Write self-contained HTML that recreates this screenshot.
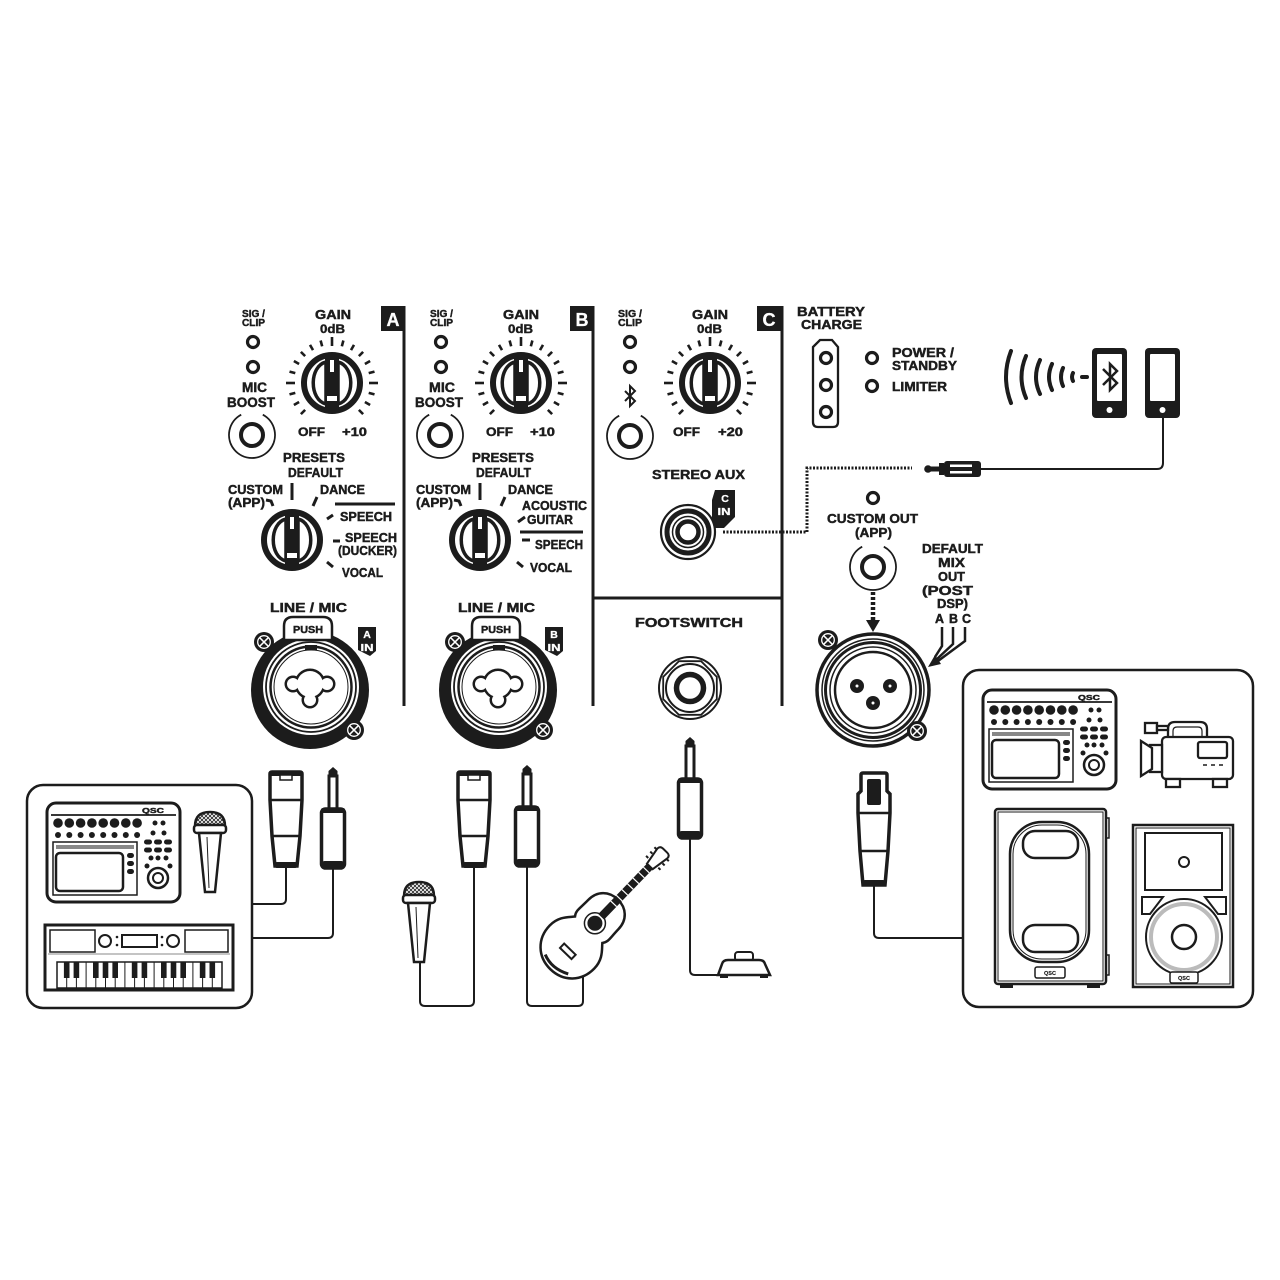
<!DOCTYPE html>
<html><head><meta charset="utf-8">
<style>
html,body{margin:0;padding:0;background:#fff;width:1280px;height:1280px;overflow:hidden}
svg{display:block}
text{font-family:"Liberation Sans",Arial,sans-serif;font-weight:bold;fill:#1c1c1c;stroke:#1c1c1c;stroke-width:0.45}
text.w{fill:#fff;stroke:#fff;stroke-width:0.3}
text.s{stroke-width:0.15}
</style></head><body>
<svg width="1280" height="1280" viewBox="0 0 1280 1280" xmlns="http://www.w3.org/2000/svg" xmlns:xlink="http://www.w3.org/1999/xlink">
<defs>
<pattern id="hatch" width="4" height="4" patternUnits="userSpaceOnUse"><path d="M0,4L4,0M0,0L4,4" stroke="#222" stroke-width="0.8"/></pattern>
<g id="ticks" stroke="#1c1c1c" stroke-width="2.6">
 <line y1="-38" y2="-44" transform="rotate(-135)"/>
 <line y1="-38" y2="-44" transform="rotate(-120)"/>
 <line y1="-38" y2="-44" transform="rotate(-105)"/>
 <line y1="-37" y2="-46" transform="rotate(-90)"/>
 <line y1="-38" y2="-44" transform="rotate(-75)"/>
 <line y1="-38" y2="-44" transform="rotate(-60)"/>
 <line y1="-38" y2="-44" transform="rotate(-45)"/>
 <line y1="-38" y2="-44" transform="rotate(-30)"/>
 <line y1="-38" y2="-44" transform="rotate(-15)"/>
 <line y1="-37" y2="-46"/>
 <line y1="-38" y2="-44" transform="rotate(15)"/>
 <line y1="-38" y2="-44" transform="rotate(30)"/>
 <line y1="-38" y2="-44" transform="rotate(45)"/>
 <line y1="-38" y2="-44" transform="rotate(60)"/>
 <line y1="-38" y2="-44" transform="rotate(75)"/>
 <line y1="-37" y2="-46" transform="rotate(90)"/>
 <line y1="-38" y2="-44" transform="rotate(105)"/>
 <line y1="-38" y2="-44" transform="rotate(120)"/>
 <line y1="-38" y2="-44" transform="rotate(135)"/>
</g>
<g id="knob">
 <circle r="28" fill="#fff" stroke="#1c1c1c" stroke-width="6"/>
 <path d="M-6,-21 C-23,-17 -23,17 -6,21 Z" fill="#fff" stroke="#1c1c1c" stroke-width="3.5"/>
 <path d="M6,-21 C23,-17 23,17 6,21 Z" fill="#fff" stroke="#1c1c1c" stroke-width="3.5"/>
 <rect x="-7" y="-25" width="14" height="50" fill="#1c1c1c"/>
 <rect x="-2" y="-23" width="4" height="12" fill="#fff"/>
 <rect x="-5" y="13" width="10" height="5" fill="#fff"/>
</g>
<circle id="led" r="5.5" fill="none" stroke="#1c1c1c" stroke-width="3.2"/>
<g id="sjack">
 <circle r="11" fill="none" stroke="#1c1c1c" stroke-width="4"/>
 <path d="M10.8,-20.3 A23,23 0 1 1 -10.8,-20.3" fill="none" stroke="#1c1c1c" stroke-width="1.8"/>
</g>
<g id="screw">
 <circle r="10" fill="#1c1c1c"/>
 <circle r="6.3" fill="none" stroke="#fff" stroke-width="1.3"/>
 <path d="M-4.3,-4.3L4.3,4.3M4.3,-4.3L-4.3,4.3" stroke="#fff" stroke-width="1.5"/>
</g>
<g id="combo">
 <circle r="59" fill="#1c1c1c"/>
 <circle cx="1" cy="-3" r="48" fill="#fff"/>
 <circle cx="1" cy="-3" r="45" fill="none" stroke="#1c1c1c" stroke-width="1.8"/>
 <circle cx="1" cy="-3" r="40.5" fill="#fff" stroke="#1c1c1c" stroke-width="2.5"/>
 <circle cx="1" cy="-3" r="37" fill="none" stroke="#1c1c1c" stroke-width="1"/>
 <rect x="-5" y="-45" width="12" height="5" fill="#1c1c1c"/>
 <g fill="#1c1c1c"><circle cx="0" cy="-6" r="15.5"/><circle cx="-17" cy="-6" r="8.5"/><circle cx="17" cy="-6" r="8.5"/><circle cx="0" cy="10" r="8.5"/></g>
 <g fill="#fff"><circle cx="0" cy="-6" r="13"/><circle cx="-17" cy="-6" r="6"/><circle cx="17" cy="-6" r="6"/><circle cx="0" cy="10" r="6"/></g>
 <path d="M-26,-50 L-26,-64 Q-26,-73 -17,-73 L13,-73 Q22,-73 22,-64 L22,-50 Z" fill="#fff" stroke="#1c1c1c" stroke-width="2.5"/>
 <text x="-2" y="-57" font-size="10" text-anchor="middle" textLength="30" lengthAdjust="spacingAndGlyphs" font-family="Liberation Sans, Arial, sans-serif" font-weight="bold">PUSH</text>
</g>
<g id="xlrm">
 <path d="M-16,2 Q-16,0 -14,0 L14,0 Q16,0 16,2 L16,28 L14,64 L11,94 L-11,94 L-14,64 L-16,28 Z" fill="#fff" stroke="#1c1c1c" stroke-width="3.5"/>
 <path d="M-16,28 H16 M-14,64 H14" stroke="#1c1c1c" stroke-width="2.5"/>
 <rect x="-16" y="0" width="32" height="4" fill="#1c1c1c"/>
 <rect x="-6" y="3" width="12" height="5" fill="#fff" stroke="#1c1c1c" stroke-width="1.5"/>
 <rect x="-11" y="90" width="22" height="6" rx="2" fill="#1c1c1c"/>
</g>
<g id="trs">
 <path d="M0,0 L4.5,4 L4.5,9 L-4.5,9 L-4.5,4 Z" fill="#1c1c1c"/>
 <rect x="-4" y="9" width="8" height="33" fill="#fff" stroke="#1c1c1c" stroke-width="3"/>
 <rect x="-11.5" y="42" width="23" height="59" rx="4" fill="#fff" stroke="#1c1c1c" stroke-width="3.5"/>
 <rect x="-12" y="41" width="24" height="5" rx="2" fill="#1c1c1c"/>
 <rect x="-11.5" y="94" width="23" height="7" rx="3" fill="#1c1c1c"/>
</g>
<g id="xlrf">
 <path d="M-13,2 Q-13,0 -11,0 L11,0 Q13,0 13,2 L13,18 L16,21 L16,40 L14,78 L11,112 L-11,112 L-14,78 L-16,40 L-16,21 L-13,18 Z" fill="#fff" stroke="#1c1c1c" stroke-width="3.5"/>
 <path d="M-16,40 H16 M-14,78 H14" stroke="#1c1c1c" stroke-width="2.5"/>
 <rect x="-7" y="6" width="14" height="26" rx="2" fill="#1c1c1c"/>
 <rect x="-11" y="107" width="22" height="6" rx="2" fill="#1c1c1c"/>
</g>
<g id="mixer">
 <rect x="0" y="0" width="133" height="99" rx="9" fill="#fff" stroke="#1c1c1c" stroke-width="3"/>
 <path d="M4,12 H129" stroke="#1c1c1c" stroke-width="1.8"/>
 <text x="95" y="10" font-size="7.5" textLength="22" lengthAdjust="spacingAndGlyphs" font-family="Liberation Sans, Arial, sans-serif" font-weight="bold">QSC</text>
 <g fill="#1c1c1c">
  <circle cx="11" cy="20" r="4.8"/><circle cx="22.3" cy="20" r="4.8"/><circle cx="33.6" cy="20" r="4.8"/><circle cx="44.9" cy="20" r="4.8"/><circle cx="56.2" cy="20" r="4.8"/><circle cx="67.5" cy="20" r="4.8"/><circle cx="78.8" cy="20" r="4.8"/><circle cx="90.1" cy="20" r="4.8"/>
  <circle cx="11" cy="32" r="3"/><circle cx="22.3" cy="32" r="3"/><circle cx="33.6" cy="32" r="3"/><circle cx="44.9" cy="32" r="3"/><circle cx="56.2" cy="32" r="3"/><circle cx="67.5" cy="32" r="3"/><circle cx="78.8" cy="32" r="3"/><circle cx="90.1" cy="32" r="3"/>
  <circle cx="108" cy="20" r="2.5"/><circle cx="116" cy="20" r="2.5"/><circle cx="106" cy="30" r="2.5"/><circle cx="117" cy="30" r="2.5"/>
  <rect x="97" y="36.5" width="8" height="5" rx="2.5"/><rect x="107" y="36.5" width="8" height="5" rx="2.5"/><rect x="117" y="36.5" width="8" height="5" rx="2.5"/>
  <rect x="97" y="44.5" width="8" height="5" rx="2.5"/><rect x="107" y="44.5" width="8" height="5" rx="2.5"/><rect x="117" y="44.5" width="8" height="5" rx="2.5"/>
  <circle cx="104" cy="55" r="2.5"/><circle cx="111" cy="55" r="2.5"/><circle cx="119" cy="55" r="2.5"/>
  <circle cx="100" cy="63" r="2.5"/><circle cx="123" cy="63" r="2.5"/>
  <rect x="80" y="50" width="7" height="5" rx="2.5"/><rect x="80" y="58" width="7" height="5" rx="2.5"/><rect x="80" y="66" width="7" height="5" rx="2.5"/>
 </g>
 <circle cx="111" cy="75" r="10" fill="#fff" stroke="#1c1c1c" stroke-width="2.5"/>
 <circle cx="111" cy="75" r="5" fill="none" stroke="#1c1c1c" stroke-width="2"/>
 <rect x="6" y="39" width="84" height="53" fill="none" stroke="#1c1c1c" stroke-width="1.5"/>
 <rect x="9" y="42" width="78" height="4" fill="#888"/>
 <rect x="9" y="50" width="67" height="38" rx="4" fill="#fff" stroke="#1c1c1c" stroke-width="2.5"/>
</g>
<g id="mic">
 <path d="M-15,14 Q-15,0 0,0 Q15,0 15,14 Z" fill="url(#hatch)" stroke="#1c1c1c" stroke-width="2.5"/>
 <rect x="-16" y="13" width="32" height="8" rx="3" fill="#fff" stroke="#1c1c1c" stroke-width="2.5"/>
 <path d="M-11,21 L-5,80 L5,80 L11,21 Z" fill="#fff" stroke="#1c1c1c" stroke-width="2.5"/>
 <path d="M-3,25 L-1,76" stroke="#1c1c1c" stroke-width="1"/>
</g>
<g id="phone">
 <rect x="0" y="0" width="35" height="70" rx="4" fill="#1c1c1c"/>
 <rect x="5" y="6" width="25" height="47" rx="1" fill="#fff"/>
 <circle cx="17.5" cy="62" r="3" fill="#fff"/>
</g>
</defs>

<!-- Dividers and channel boxes -->
<g stroke="#1c1c1c" stroke-width="3" fill="none">
 <path d="M404,306 V706"/>
 <path d="M593,306 V706"/>
 <path d="M782,306 V706"/>
 <path d="M593,598 H782"/>
</g>
<rect x="381" y="306" width="24" height="25" fill="#1c1c1c"/>
<rect x="570" y="306" width="24" height="25" fill="#1c1c1c"/>
<rect x="757" y="306" width="26" height="25" fill="#1c1c1c"/>
<text class="w" x="393" y="326" font-size="18" text-anchor="middle">A</text>
<text class="w" x="582" y="326" font-size="18" text-anchor="middle">B</text>
<text class="w" x="769" y="326" font-size="18" text-anchor="middle">C</text>

<!-- Channel A -->
<text x="242" y="317" font-size="10.5" textLength="23" lengthAdjust="spacingAndGlyphs">SIG /</text>
<text x="242" y="326" font-size="10.5" textLength="23" lengthAdjust="spacingAndGlyphs">CLIP</text>
<use href="#led" x="253" y="342"/>
<use href="#led" x="253" y="367"/>
<text x="242" y="392" font-size="13.5" textLength="25" lengthAdjust="spacingAndGlyphs">MIC</text>
<text x="227" y="407" font-size="13.5" textLength="48" lengthAdjust="spacingAndGlyphs">BOOST</text>
<use href="#sjack" x="252" y="435"/>
<text x="315" y="319" font-size="13" textLength="36" lengthAdjust="spacingAndGlyphs">GAIN</text>
<text x="320" y="333" font-size="12" textLength="25" lengthAdjust="spacingAndGlyphs">0dB</text>
<use href="#ticks" x="332" y="383"/>
<use href="#knob" x="332" y="383"/>
<text x="298" y="436" font-size="12" textLength="27" lengthAdjust="spacingAndGlyphs">OFF</text>
<text x="342" y="436" font-size="12" textLength="25" lengthAdjust="spacingAndGlyphs">+10</text>
<text x="283" y="462" font-size="13" textLength="62" lengthAdjust="spacingAndGlyphs">PRESETS</text>
<text x="288" y="477" font-size="13" textLength="55" lengthAdjust="spacingAndGlyphs">DEFAULT</text>
<text x="228" y="494" font-size="13" textLength="55" lengthAdjust="spacingAndGlyphs">CUSTOM</text>
<text x="228" y="507" font-size="13" textLength="37" lengthAdjust="spacingAndGlyphs">(APP)</text>
<text x="320" y="494" font-size="13" textLength="45" lengthAdjust="spacingAndGlyphs">DANCE</text>
<text x="340" y="521" font-size="12.5" textLength="52" lengthAdjust="spacingAndGlyphs">SPEECH</text>
<text x="345" y="542" font-size="12.5" textLength="52" lengthAdjust="spacingAndGlyphs">SPEECH</text>
<text x="338" y="555" font-size="12.5" textLength="59" lengthAdjust="spacingAndGlyphs">(DUCKER)</text>
<text x="342" y="577" font-size="12.5" textLength="41" lengthAdjust="spacingAndGlyphs">VOCAL</text>
<g stroke="#1c1c1c" stroke-width="3" fill="none">
 <path d="M292,483 V500"/>
 <path d="M266,500 L271,501 L273,506"/>
 <path d="M317,497 L313,506"/>
 <path d="M335,504 H395"/>
 <path d="M333,515 L327,519"/>
 <path d="M333,541 H340"/>
 <path d="M327,562 L333,567"/>
</g>
<use href="#knob" x="292" y="540"/>

<!-- Channel B -->
<text x="430" y="317" font-size="10.5" textLength="23" lengthAdjust="spacingAndGlyphs">SIG /</text>
<text x="430" y="326" font-size="10.5" textLength="23" lengthAdjust="spacingAndGlyphs">CLIP</text>
<use href="#led" x="441" y="342"/>
<use href="#led" x="441" y="367"/>
<text x="429" y="392" font-size="13.5" textLength="26" lengthAdjust="spacingAndGlyphs">MIC</text>
<text x="415" y="407" font-size="13.5" textLength="48" lengthAdjust="spacingAndGlyphs">BOOST</text>
<use href="#sjack" x="440" y="435"/>
<text x="503" y="319" font-size="13" textLength="36" lengthAdjust="spacingAndGlyphs">GAIN</text>
<text x="508" y="333" font-size="12" textLength="25" lengthAdjust="spacingAndGlyphs">0dB</text>
<use href="#ticks" x="521" y="383"/>
<use href="#knob" x="521" y="383"/>
<text x="486" y="436" font-size="12" textLength="27" lengthAdjust="spacingAndGlyphs">OFF</text>
<text x="530" y="436" font-size="12" textLength="25" lengthAdjust="spacingAndGlyphs">+10</text>
<text x="472" y="462" font-size="13" textLength="62" lengthAdjust="spacingAndGlyphs">PRESETS</text>
<text x="476" y="477" font-size="13" textLength="55" lengthAdjust="spacingAndGlyphs">DEFAULT</text>
<text x="416" y="494" font-size="13" textLength="55" lengthAdjust="spacingAndGlyphs">CUSTOM</text>
<text x="416" y="507" font-size="13" textLength="37" lengthAdjust="spacingAndGlyphs">(APP)</text>
<text x="508" y="494" font-size="13" textLength="45" lengthAdjust="spacingAndGlyphs">DANCE</text>
<text x="522" y="510" font-size="12.5" textLength="65" lengthAdjust="spacingAndGlyphs">ACOUSTIC</text>
<text x="527" y="524" font-size="12.5" textLength="46" lengthAdjust="spacingAndGlyphs">GUITAR</text>
<text x="535" y="549" font-size="12.5" textLength="48" lengthAdjust="spacingAndGlyphs">SPEECH</text>
<text x="530" y="572" font-size="12.5" textLength="42" lengthAdjust="spacingAndGlyphs">VOCAL</text>
<g stroke="#1c1c1c" stroke-width="3" fill="none">
 <path d="M480,483 V500"/>
 <path d="M454,500 L459,501 L461,506"/>
 <path d="M505,497 L501,506"/>
 <path d="M525,517 L518,522"/>
 <path d="M520,532 H583"/>
 <path d="M522,540 H530"/>
 <path d="M517,562 L523,567"/>
</g>
<use href="#knob" x="480" y="540"/>

<!-- Channel C -->
<text x="618" y="317" font-size="10.5" textLength="24" lengthAdjust="spacingAndGlyphs">SIG /</text>
<text x="618" y="326" font-size="10.5" textLength="24" lengthAdjust="spacingAndGlyphs">CLIP</text>
<use href="#led" x="630" y="342"/>
<use href="#led" x="630" y="367"/>
<path d="M625,391 L635,401 L630,406 L630,386 L635,391 L625,401" fill="none" stroke="#1c1c1c" stroke-width="2"/>
<use href="#sjack" x="630" y="436"/>
<text x="692" y="319" font-size="13" textLength="36" lengthAdjust="spacingAndGlyphs">GAIN</text>
<text x="697" y="333" font-size="12" textLength="25" lengthAdjust="spacingAndGlyphs">0dB</text>
<use href="#ticks" x="710" y="383"/>
<use href="#knob" x="710" y="383"/>
<text x="673" y="436" font-size="12" textLength="27" lengthAdjust="spacingAndGlyphs">OFF</text>
<text x="718" y="436" font-size="12" textLength="25" lengthAdjust="spacingAndGlyphs">+20</text>
<text x="652" y="479" font-size="13" textLength="93" lengthAdjust="spacingAndGlyphs">STEREO AUX</text>
<!-- stereo aux jack -->
<path d="M715,490 L735,490 L735,517 L724,528 L712,528 L712,500 Z" fill="#1c1c1c"/>
<text class="w" x="725" y="502" font-size="10.5" text-anchor="middle">C</text>
<text class="w" x="724" y="515" font-size="10.5" text-anchor="middle" textLength="13" lengthAdjust="spacingAndGlyphs">IN</text>
<circle cx="688" cy="532" r="27" fill="#fff" stroke="#1c1c1c" stroke-width="2.2"/>
<circle cx="688" cy="532" r="21" fill="none" stroke="#1c1c1c" stroke-width="5"/>
<circle cx="688" cy="532" r="15.5" fill="none" stroke="#1c1c1c" stroke-width="1.5"/>
<circle cx="688" cy="532" r="10.5" fill="none" stroke="#1c1c1c" stroke-width="4.5"/>
<path d="M723,532 H807 V468 H912" fill="none" stroke="#1c1c1c" stroke-width="3" stroke-dasharray="2 1.5"/>

<!-- Battery / power -->
<text x="797" y="316" font-size="12.5" textLength="68" lengthAdjust="spacingAndGlyphs">BATTERY</text>
<text x="801" y="329" font-size="12.5" textLength="61" lengthAdjust="spacingAndGlyphs">CHARGE</text>
<path d="M820,340 L832,340 L838,347 L838,422 Q838,427 833,427 L818,427 Q813,427 813,422 L813,347 Z" fill="#fff" stroke="#1c1c1c" stroke-width="2.3"/>
<use href="#led" x="826" y="358"/>
<use href="#led" x="826" y="385"/>
<use href="#led" x="826" y="412"/>
<use href="#led" x="872" y="358"/>
<use href="#led" x="872" y="386"/>
<text x="892" y="357" font-size="12.5" textLength="62" lengthAdjust="spacingAndGlyphs">POWER /</text>
<text x="892" y="370" font-size="12.5" textLength="65" lengthAdjust="spacingAndGlyphs">STANDBY</text>
<text x="892" y="391" font-size="12.5" textLength="55" lengthAdjust="spacingAndGlyphs">LIMITER</text>

<!-- Bluetooth waves and phones -->
<g fill="none" stroke="#1c1c1c" stroke-width="4" stroke-linecap="round">
 <path d="M1011,351 Q1001,377 1011,403"/>
 <path d="M1026,356 Q1017,377 1026,398"/>
 <path d="M1040,360 Q1032,377 1040,394"/>
 <path d="M1052,364 Q1046,377 1052,390"/>
 <path d="M1063,368 Q1059,377 1063,386"/>
 <path d="M1073,373 Q1071,377 1073,381"/>
 <path d="M1082,377 H1087"/>
</g>
<use href="#phone" x="1092" y="348"/>
<use href="#phone" x="1145" y="348"/>
<path d="M1103,369 L1117,383 L1110,390 L1110,364 L1117,371 L1103,385" fill="none" stroke="#1c1c1c" stroke-width="2.5"/>
<path d="M980,469 H1157 Q1163,469 1163,463 V418" fill="none" stroke="#1c1c1c" stroke-width="2"/>
<circle cx="928" cy="469" r="3.8" fill="#1c1c1c"/>
<rect x="928" y="466.5" width="14" height="5" fill="#1c1c1c"/>
<rect x="939" y="463" width="5" height="12" fill="#1c1c1c"/>
<rect x="944" y="461" width="37" height="16" rx="3" fill="#1c1c1c"/>
<rect x="950" y="464.5" width="22" height="2.5" fill="#fff"/>
<rect x="950" y="471" width="22" height="2.5" fill="#fff"/>

<!-- Custom out -->
<use href="#led" x="873" y="498"/>
<text x="827" y="523" font-size="13" textLength="91" lengthAdjust="spacingAndGlyphs">CUSTOM OUT</text>
<text x="855" y="537" font-size="13" textLength="37" lengthAdjust="spacingAndGlyphs">(APP)</text>
<use href="#sjack" x="873" y="567"/>
<text x="922" y="553" font-size="12.5" textLength="61" lengthAdjust="spacingAndGlyphs">DEFAULT</text>
<text x="938" y="567" font-size="12.5" textLength="27" lengthAdjust="spacingAndGlyphs">MIX</text>
<text x="938" y="581" font-size="12.5" textLength="27" lengthAdjust="spacingAndGlyphs">OUT</text>
<text x="922" y="595" font-size="12.5" textLength="51" lengthAdjust="spacingAndGlyphs">(POST</text>
<text x="937" y="608" font-size="12.5" textLength="31" lengthAdjust="spacingAndGlyphs">DSP)</text>
<text x="935" y="623" font-size="12.5" textLength="9" lengthAdjust="spacingAndGlyphs">A</text>
<text x="949" y="623" font-size="12.5" textLength="9" lengthAdjust="spacingAndGlyphs">B</text>
<text x="962" y="623" font-size="12.5" textLength="9" lengthAdjust="spacingAndGlyphs">C</text>
<path d="M873,592 V621" stroke="#1c1c1c" stroke-width="4.5" stroke-dasharray="3 2"/>
<polygon points="866,620 880,620 873,632" fill="#1c1c1c"/>
<g fill="none" stroke="#1c1c1c" stroke-width="2.5">
 <path d="M942,627 V646 L935,657"/>
 <path d="M953,627 V644 L937,659"/>
 <path d="M965,627 V641 L938,661"/>
</g>
<polygon points="928,667 941,664 935,655" fill="#1c1c1c"/>

<!-- XLR out jack -->
<g fill="none" stroke="#1c1c1c">
 <circle cx="873" cy="690" r="56" stroke-width="3.5"/>
 <circle cx="873" cy="690" r="51" stroke-width="1.5"/>
 <circle cx="873" cy="690" r="47.5" stroke-width="3"/>
 <circle cx="873" cy="690" r="43" stroke-width="1.5"/>
 <circle cx="873" cy="690" r="38" stroke-width="2.5"/>
</g>
<g fill="#1c1c1c"><circle cx="857" cy="686" r="7"/><circle cx="890" cy="686" r="7"/><circle cx="873" cy="703" r="7"/></g>
<g fill="#fff"><circle cx="857" cy="686" r="1.5"/><circle cx="890" cy="686" r="1.5"/><circle cx="873" cy="703" r="1.5"/></g>
<use href="#screw" x="828" y="640"/>
<use href="#screw" x="917" y="731"/>

<!-- Combo jacks -->
<text x="270" y="612" font-size="13" textLength="77" lengthAdjust="spacingAndGlyphs">LINE / MIC</text>
<use href="#combo" x="310" y="690"/>
<use href="#screw" x="264" y="642"/>
<use href="#screw" x="354" y="730"/>
<path d="M358,627 L376,627 L376,651 L370,656 L358,650 Z" fill="#1c1c1c"/>
<text class="w" x="367" y="638" font-size="10.5" text-anchor="middle">A</text>
<text class="w" x="367" y="651" font-size="10.5" text-anchor="middle" textLength="13" lengthAdjust="spacingAndGlyphs">IN</text>

<text x="458" y="612" font-size="13" textLength="77" lengthAdjust="spacingAndGlyphs">LINE / MIC</text>
<use href="#combo" x="498" y="690"/>
<use href="#screw" x="455" y="642"/>
<use href="#screw" x="543" y="730"/>
<path d="M545,627 L563,627 L563,651 L557,656 L545,650 Z" fill="#1c1c1c"/>
<text class="w" x="554" y="638" font-size="10.5" text-anchor="middle">B</text>
<text class="w" x="554" y="651" font-size="10.5" text-anchor="middle" textLength="13" lengthAdjust="spacingAndGlyphs">IN</text>

<!-- Footswitch -->
<text x="635" y="627" font-size="13" textLength="108" lengthAdjust="spacingAndGlyphs">FOOTSWITCH</text>
<circle cx="690" cy="688" r="31" fill="#fff" stroke="#1c1c1c" stroke-width="2"/>
<polygon points="716.8,699.1 701.1,714.8 678.9,714.8 663.2,699.1 663.2,676.9 678.9,661.2 701.1,661.2 716.8,676.9" fill="none" stroke="#1c1c1c" stroke-width="1.8"/>
<circle cx="690" cy="688" r="24" fill="none" stroke="#1c1c1c" stroke-width="2"/>
<circle cx="690" cy="688" r="13.5" fill="none" stroke="#1c1c1c" stroke-width="5.5"/>

<!-- LOWER: left box -->
<rect x="27" y="785" width="225" height="223" rx="16" fill="#fff" stroke="#1c1c1c" stroke-width="2.5"/>
<use href="#mixer" x="47" y="803"/>
<use href="#mic" x="210" y="812"/>
<!-- keyboard -->
<rect x="45" y="925" width="188" height="65" fill="#fff" stroke="#1c1c1c" stroke-width="3"/>
<g fill="none" stroke="#1c1c1c">
 <rect x="50" y="930" width="45" height="22" stroke-width="1.5"/>
 <rect x="185" y="930" width="43" height="22" stroke-width="1.5"/>
 <circle cx="105" cy="941" r="6" stroke-width="2"/>
 <circle cx="173" cy="941" r="6" stroke-width="2"/>
 <rect x="122" y="935" width="35" height="12" stroke-width="2"/>
 <path d="M48,954 H230" stroke-width="1" stroke="#888"/>
 <rect x="57" y="962" width="165" height="26" stroke-width="1.5"/>
 <path d="M66.7,962V988M76.4,962V988M86.1,962V988M95.8,962V988M105.5,962V988M115.2,962V988M124.9,962V988M134.6,962V988M144.4,962V988M154.1,962V988M163.8,962V988M173.5,962V988M183.2,962V988M192.9,962V988M202.6,962V988M212.3,962V988" stroke-width="1"/>
</g>
<g fill="#1c1c1c">
 <circle cx="117" cy="937" r="1.3"/><circle cx="117" cy="945" r="1.3"/><circle cx="162" cy="937" r="1.3"/><circle cx="162" cy="945" r="1.3"/>
 <rect x="63.9" y="962" width="5.6" height="16"/><rect x="73.6" y="962" width="5.6" height="16"/>
 <rect x="93" y="962" width="5.6" height="16"/><rect x="102.7" y="962" width="5.6" height="16"/><rect x="112.4" y="962" width="5.6" height="16"/>
 <rect x="131.8" y="962" width="5.6" height="16"/><rect x="141.6" y="962" width="5.6" height="16"/>
 <rect x="161" y="962" width="5.6" height="16"/><rect x="170.7" y="962" width="5.6" height="16"/><rect x="180.4" y="962" width="5.6" height="16"/>
 <rect x="199.8" y="962" width="5.6" height="16"/><rect x="209.5" y="962" width="5.6" height="16"/>
</g>

<!-- cables -->
<g fill="none" stroke="#1c1c1c" stroke-width="2">
 <path d="M286,868 V899 Q286,904 281,904 H252"/>
 <path d="M333,868 V933 Q333,938 328,938 H252"/>
 <path d="M474,868 V1001 Q474,1006 469,1006 H425 Q420,1006 420,1001 V962"/>
 <path d="M527,867 V1001 Q527,1006 532,1006 H578 Q583,1006 583,1001 V975"/>
 <path d="M690,837 V970 Q690,975 695,975 H718"/>
 <path d="M874,885 V933 Q874,938 879,938 H963"/>
</g>
<use href="#xlrm" x="286" y="772"/>
<use href="#trs" x="333" y="767"/>
<use href="#xlrm" x="474" y="772"/>
<use href="#trs" x="527" y="765"/>
<use href="#trs" x="690" y="737"/>
<use href="#xlrf" x="874" y="773"/>
<use href="#mic" x="419" y="882"/>

<!-- guitar -->
<g transform="translate(572,947) rotate(44)">
 <path d="M0,31 C18,31 31,18 31,0 C31,-13 23,-19 19,-24 C23,-29 21,-33 21,-45 C21,-58 12,-66 0,-66 C-12,-66 -21,-58 -21,-45 C-21,-33 -23,-29 -19,-24 C-23,-19 -31,-13 -31,0 C-31,18 -18,31 0,31 Z" fill="#fff" stroke="#1c1c1c" stroke-width="2.5"/>
 <path d="M-14,24 Q0,30 16,22" fill="none" stroke="#1c1c1c" stroke-width="3"/>
 <circle cx="0" cy="-33" r="10.5" fill="none" stroke="#1c1c1c" stroke-width="1.5"/>
 <circle cx="0" cy="-33" r="7.5" fill="#1c1c1c"/>
 <rect x="-8" y="3" width="16" height="6" fill="#fff" stroke="#1c1c1c" stroke-width="2"/>
 <rect x="-4" y="-112" width="8" height="70" fill="#1c1c1c"/>
 <path d="M-4,-60H4M-4,-68H4M-4,-76H4M-4,-84H4M-4,-92H4M-4,-100H4M-4,-107H4" stroke="#fff" stroke-width="1.2"/>
 <path d="M-4,-112 L-7,-130 Q-7,-134 -3,-134 L3,-134 Q7,-134 7,-130 L4,-112 Z" fill="#fff" stroke="#1c1c1c" stroke-width="2"/>
 <path d="M-7,-117H-10M-7,-123H-10M-7,-129H-10M7,-117H10M7,-123H10M7,-129H10" stroke="#1c1c1c" stroke-width="2"/>
</g>

<!-- footswitch pedal -->
<rect x="735" y="952" width="18" height="9" rx="3" fill="#fff" stroke="#1c1c1c" stroke-width="2"/>
<path d="M718,975 L722,964 Q723,960 728,960 L759,960 Q764,960 765,964 L770,975 Z" fill="#fff" stroke="#1c1c1c" stroke-width="2.5"/>
<rect x="720" y="975" width="8" height="3" fill="#1c1c1c"/>
<rect x="760" y="975" width="8" height="3" fill="#1c1c1c"/>

<!-- Right box -->
<rect x="963" y="670" width="290" height="337" rx="16" fill="#fff" stroke="#1c1c1c" stroke-width="2.5"/>
<use href="#mixer" x="983" y="690"/>
<!-- camera -->
<g fill="#fff" stroke="#1c1c1c" stroke-width="2.3">
 <path d="M1168,737 V729 Q1168,722 1175,722 H1200 Q1207,722 1207,729 V737" fill="none"/>
 <path d="M1173,737 V731 Q1173,727 1177,727 H1198 Q1202,727 1202,731 V737" fill="none" stroke-width="1.2"/>
 <rect x="1145" y="723" width="12" height="10"/>
 <rect x="1157" y="726" width="11" height="4"/>
 <rect x="1162" y="737" width="71" height="42" rx="4"/>
 <rect x="1150" y="745" width="12" height="27"/>
 <path d="M1152,748 L1141,741 L1141,776 L1152,769 Z"/>
 <rect x="1198" y="742" width="29" height="16" rx="2"/>
 <rect x="1166" y="779" width="14" height="8"/>
 <rect x="1213" y="779" width="14" height="8"/>
</g>
<path d="M1203,765H1207M1211,765H1215M1219,765H1223" stroke="#1c1c1c" stroke-width="1.5"/>
<!-- speaker 1 -->
<g fill="#fff" stroke="#1c1c1c">
 <rect x="1105" y="818" width="4" height="20" stroke-width="1.5"/>
 <rect x="1105" y="955" width="4" height="20" stroke-width="1.5"/>
 <rect x="995" y="809" width="111" height="175" rx="3" stroke-width="2.5"/>
 <rect x="998" y="812" width="105" height="169" stroke-width="1" fill="none"/>
 <rect x="1010" y="822" width="79" height="140" rx="32" stroke-width="2.5"/>
 <rect x="1013" y="825" width="73" height="134" rx="29" stroke-width="1" fill="none"/>
 <rect x="1023" y="831" width="55" height="27" rx="12" stroke-width="2.5"/>
 <rect x="1023" y="925" width="55" height="27" rx="12" stroke-width="2.5"/>
 <rect x="1035" y="967" width="30" height="11" rx="2" stroke-width="1.5"/>
</g>
<text class="s" x="1050" y="975" font-size="5.5" text-anchor="middle">QSC</text>
<rect x="1000" y="984" width="13" height="4" fill="#1c1c1c"/>
<rect x="1087" y="984" width="13" height="4" fill="#1c1c1c"/>
<!-- speaker 2 -->
<g fill="#fff" stroke="#1c1c1c">
 <rect x="1133" y="825" width="100" height="162" stroke-width="2.5"/>
 <rect x="1136" y="828" width="94" height="156" stroke-width="1" fill="none"/>
 <rect x="1145" y="833" width="77" height="57" stroke-width="2"/>
 <circle cx="1184" cy="862" r="5" stroke-width="2"/>
 <path d="M1142,897 H1163 L1150,914 H1142 Z" stroke-width="2"/>
 <path d="M1226,897 H1205 L1218,914 H1226 Z" stroke-width="2"/>
 <circle cx="1184" cy="937" r="38" stroke-width="2"/>
 <circle cx="1184" cy="937" r="33" stroke-width="4" stroke="#bbb" fill="none"/>
 <circle cx="1184" cy="937" r="12" stroke-width="2.5"/>
 <rect x="1170" y="972" width="28" height="11" rx="2" stroke-width="1.5"/>
</g>
<text class="s" x="1184" y="980" font-size="5.5" text-anchor="middle">QSC</text>
</svg>
</body></html>
